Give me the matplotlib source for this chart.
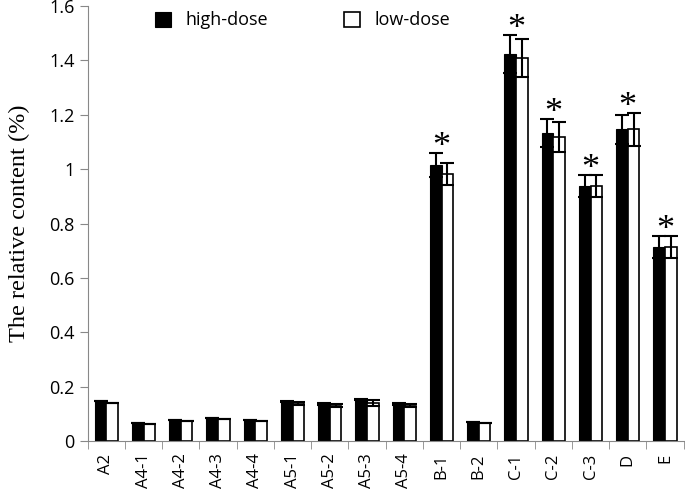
import matplotlib
matplotlib.use("Agg")
import matplotlib.pyplot as plt
import numpy as np

categories = ["A2", "A4-1", "A4-2", "A4-3", "A4-4", "A5-1", "A5-2", "A5-3",
              "A5-4", "B-1", "B-2", "C-1", "C-2", "C-3", "D", "E"]
high_dose = [0.147, 0.067, 0.077, 0.086, 0.077, 0.145, 0.136, 0.153,
             0.136, 1.015, 0.070, 1.425, 1.133, 0.939, 1.147, 0.714]
low_dose = [0.140, 0.063, 0.073, 0.082, 0.073, 0.138, 0.130, 0.140,
            0.130, 0.982, 0.065, 1.410, 1.118, 0.939, 1.147, 0.714]
high_err = [0.0, 0.0, 0.0, 0.0, 0.0, 0.003, 0.003, 0.003,
            0.003, 0.045, 0.0, 0.070, 0.053, 0.040, 0.054, 0.040]
low_err = [0.0, 0.0, 0.0, 0.0, 0.0, 0.005, 0.005, 0.010,
           0.005, 0.042, 0.0, 0.070, 0.055, 0.040, 0.060, 0.040]
significant = ["B-1", "C-1", "C-2", "C-3", "D", "E"]

fig = plt.figure(figsize=(6.85, 5.04), dpi=100)
ax = fig.add_axes([0.128, 0.125, 0.870, 0.863])

x = np.arange(len(categories))
w = 0.31
ax.bar(x - w / 2, high_dose, w, color="black", edgecolor="black", linewidth=0.8,
       yerr=high_err, error_kw=dict(ecolor="black", elinewidth=1.5, capsize=5, capthick=1.5),
       label="high-dose")
ax.bar(x + w / 2, low_dose, w, color="white", edgecolor="black", linewidth=1.2,
       yerr=low_err, error_kw=dict(ecolor="black", elinewidth=1.5, capsize=5, capthick=1.5),
       label="low-dose")

# stars above the significant groups
for i, c in enumerate(categories):
    if c in significant:
        top = max(high_dose[i] + high_err[i], low_dose[i] + low_err[i])
        ax.text(i, top - 0.012, "*", ha="center", va="baseline",
                fontsize=26, family="Liberation Serif")

ax.set_xlim(-0.5, len(categories) - 0.5)
ax.set_ylim(0, 1.6)
ax.set_yticks(np.arange(0, 1.61, 0.2))
ax.set_yticklabels(["%g" % round(v, 1) for v in np.arange(0, 1.61, 0.2)],
                   fontsize=13, family="Open Sans")
ax.set_xticks(x)
ax.set_xticklabels(categories, rotation=90, fontsize=12, family="Open Sans")
ax.tick_params(axis="x", length=0, pad=9)
ax.set_xticks(np.arange(-0.5, len(categories), 1), minor=True)
ax.tick_params(axis="x", which="minor", length=6, color="#888888", direction="out")
ax.tick_params(axis="y", length=6, color="#888888", direction="out")

for s in ["top", "right"]:
    ax.spines[s].set_visible(False)
ax.spines["left"].set_color("#888888")
ax.spines["bottom"].set_color("#888888")

ax.set_ylabel("The relative content (%)", fontsize=17.5, family="Liberation Serif",
              labelpad=14)

ax.legend(loc="upper left", bbox_to_anchor=(0.085, 1.025), ncol=2, frameon=False,
          prop={"family": "Open Sans", "size": 13},
          handlelength=0.9, handleheight=0.9, columnspacing=4.2)

fig.savefig("out.png", dpi=100)
